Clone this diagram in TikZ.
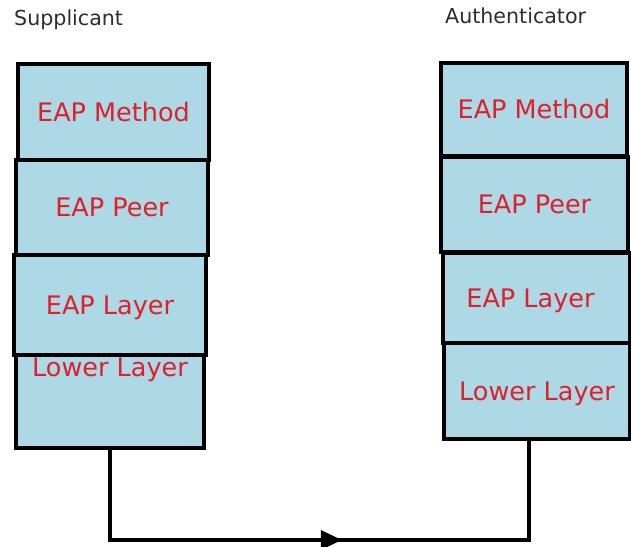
\documentclass[tikz,border=0pt]{standalone}
\usepackage{fontspec}
\setmainfont{DejaVu Sans}
\usetikzlibrary{arrows.meta,decorations.markings}
\definecolor{layerfill}{RGB}{173,216,230}
\definecolor{layertext}{RGB}{222,32,42}
\definecolor{headtext}{RGB}{45,45,45}
\tikzset{
  layerfont/.style={font=\fontsize{25.5}{30}\selectfont, text height=18.6pt, text depth=0pt},
  layer/.style={draw=black, line width=3.8pt, fill=layerfill, rectangle,
    inner sep=0pt, text=layertext, layerfont},
  head/.style={text=headtext, font=\fontsize{20.6}{24}\selectfont, inner sep=0pt, anchor=base west},
  link/.style={draw=black, line width=3.2pt}
}
\begin{document}
\begin{tikzpicture}[x=1pt,y=-1pt]
  \useasboundingbox (0,0) rectangle (631,546);

  % column headings
  \node[head] (suphead) at (14,25) {Supplicant};
  \node[head] (authhead) at (445,23) {Authenticator};

  % supplicant protocol stack
  \node[layer, minimum width=191pt, minimum height=96pt] (sm) at (113.5,112) {EAP Method};
  \node[layer, minimum width=192pt, minimum height=95pt] (sp) at (112,207.5) {EAP Peer};
  \node[layer, minimum width=192pt, minimum height=100pt] (sl) at (110,305) {EAP Layer};
  \node[layer, minimum width=188pt, minimum height=93pt,
        label={[text=layertext, layerfont, anchor=north, inner sep=0pt, yshift=-5pt]north:Lower Layer}] (slo) at (110,401.5) {};

  % authenticator protocol stack
  \node[layer, minimum width=186pt, minimum height=93pt] (am) at (534,109.5) {EAP Method};
  \node[layer, minimum width=187pt, minimum height=95pt] (ap) at (534.5,204.5) {EAP Peer};
  \node[layer, minimum width=187pt, minimum height=90pt] (al) at (536.5,298) {\hspace*{-12pt}EAP Layer};
  \node[layer, minimum width=186pt, minimum height=96pt] (alo) at (537,391) {Lower Layer};

  % link between the two lower layers
  \coordinate (bl) at (110,540);
  \coordinate (ain) at ([xshift=-8pt]alo.south);
  \path[link, postaction={decorate},
        decoration={markings, mark=at position 322pt with {\arrow{Triangle[length=21pt,width=19pt]}}}]
    (slo.south) -- (bl) -| (ain);
\end{tikzpicture}
\end{document}
